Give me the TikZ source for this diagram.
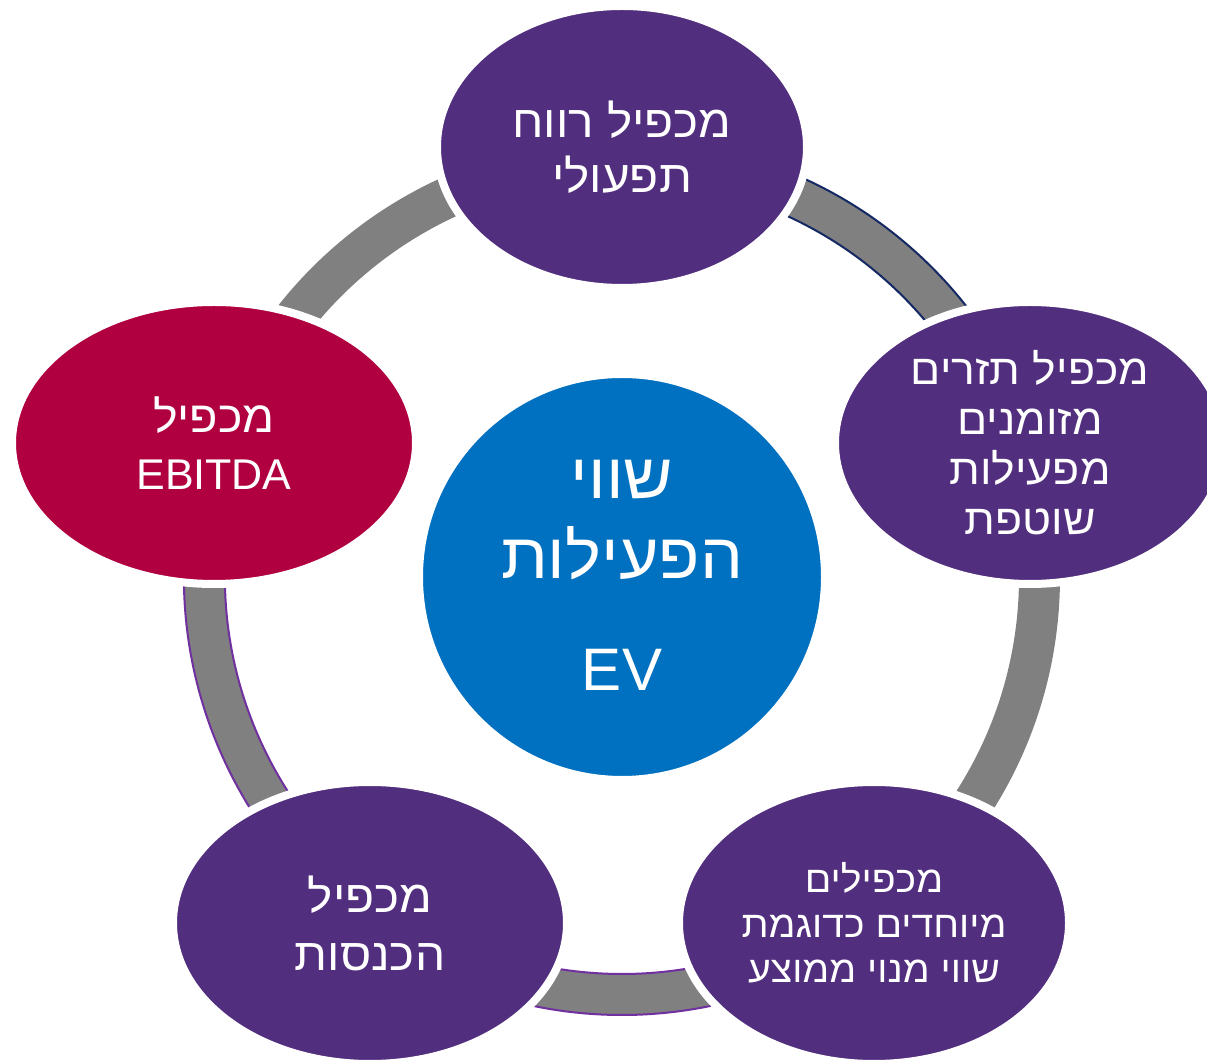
\documentclass[tikz,border=0pt]{standalone}
\usepackage{fontspec}
\TeXXeTstate=1
\newfontfamily\hebfont[Script=Hebrew, FakeStretch=1.06]{Liberation Sans}
\newfontfamily\latfont{Liberation Sans}
\definecolor{cpurple}{RGB}{81,46,126}
\definecolor{ccrimson}{RGB}{176,0,64}
\definecolor{cblue}{RGB}{0,112,192}
\definecolor{cgray}{RGB}{128,128,128}
\definecolor{cnavy}{RGB}{20,40,100}
\definecolor{cviolet}{RGB}{112,48,160}
\tikzset{
  blob/.style={ellipse, draw=white, line width=8pt, fill=cpurple, inner sep=0pt},
  lbl/.style={text=white, align=center, font=\hebfont\fontsize{45}{55}\selectfont},
  ringedge/.style={line width=2pt}
}
\usetikzlibrary{shapes.geometric}
\begin{document}
\begin{tikzpicture}[x=1pt,y=1pt]
\useasboundingbox (0,0) rectangle (1207,1060);
\clip (0,0) rectangle (1207,1060);
\coordinate (c) at (622,483);
% ring
\fill[cgray, even odd rule] (c) circle[radius=438pt] (c) circle[radius=397pt];
% outlines
\draw[ringedge, cnavy] (c) ++(18:438pt) arc[start angle=18, end angle=90, radius=438pt];
\draw[ringedge, cnavy] (c) ++(18:397pt) arc[start angle=18, end angle=90, radius=397pt];
\draw[ringedge, cviolet] (c) ++(162:438pt) arc[start angle=162, end angle=306, radius=438pt];
\draw[ringedge, cviolet] (c) ++(162:397pt) arc[start angle=162, end angle=306, radius=397pt];
% ellipses
\node[blob, minimum width=370pt, minimum height=282pt] (top) at (622,913) {};
\node[blob, minimum width=390pt, minimum height=282pt] (right) at (1030,617) {};
\node[blob, minimum width=390pt, minimum height=282pt] (br) at (874,137) {};
\node[blob, minimum width=394pt, minimum height=282pt] (bl) at (370,137) {};
\node[blob, fill=ccrimson, minimum width=404pt, minimum height=282pt] (left) at (214,617) {};
\node[circle, fill=cblue, draw=white, line width=4pt, minimum size=402pt, inner sep=0pt] (center) at (c) {};
% labels
\node[lbl] (ttop) at (top) {\beginR מכפיל רווח\endR\\\beginR תפעולי\endR};
\node[lbl, font=\hebfont\fontsize{42}{50}\selectfont] (tright) at (right) {\beginR מכפיל תזרים\endR\\\beginR מזומנים\endR\\\beginR מפעילות\endR\\\beginR שוטפת\endR};
\node[lbl, font=\hebfont\fontsize{37}{45}\selectfont] (tbr) at (br) {\beginR מכפילים\endR\\\beginR מיוחדים כדוגמת\endR\\\beginR שווי מנוי ממוצע\endR};
\node[lbl, font=\hebfont\fontsize{45}{58}\selectfont] (tbl) at (bl) {\beginR מכפיל\endR\\\beginR הכנסות\endR};
\node[lbl, font=\hebfont\fontsize{44}{57}\selectfont] (tleft) at (left) {\beginR מכפיל\endR\\{\latfont\fontsize{43}{57}\selectfont EBITDA}};
\node[lbl, font=\hebfont\fontsize{64}{80}\selectfont] (tcenter) at (622,540) {\beginR שווי\endR\\\beginR הפעילות\endR};
\node[lbl, font=\latfont\fontsize{60}{80}\selectfont] (tev) at (622,390) {EV};
\end{tikzpicture}
\end{document}
